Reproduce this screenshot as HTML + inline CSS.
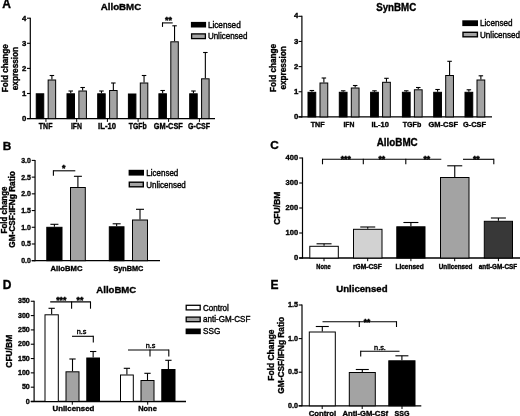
<!DOCTYPE html>
<html><head><meta charset="utf-8"><title>Figure</title>
<style>
html,body{margin:0;padding:0;background:#fff;}
body{width:520px;height:416px;overflow:hidden;font-family:"Liberation Sans",sans-serif;}
svg{display:block;}
svg text{font-family:"Liberation Sans",sans-serif;}
</style></head><body>
<svg width="520" height="416" viewBox="0 0 520 416">
<defs><filter id="soft" x="0" y="0" width="520" height="416" filterUnits="userSpaceOnUse"><feGaussianBlur stdDeviation="0.35"/></filter></defs>
<rect width="520" height="416" fill="#fff"/>
<g filter="url(#soft)">
<text x="2.2" y="8.0" font-size="12" font-weight="bold" stroke="#000" stroke-width="0.36" text-anchor="start" fill="#000">A</text>
<text x="121" y="10.3" font-size="9.8" font-weight="bold" stroke="#000" stroke-width="0.36" text-anchor="middle" textLength="40.5" lengthAdjust="spacingAndGlyphs" fill="#000">AlloBMC</text>
<line x1="30.3" y1="17.69999999999999" x2="30.3" y2="119.1" stroke="#000" stroke-width="1.2"/>
<line x1="27.0" y1="118.6" x2="215" y2="118.6" stroke="#000" stroke-width="1.3"/>
<line x1="27.0" y1="118.6" x2="30.3" y2="118.6" stroke="#000" stroke-width="1.1"/>
<text x="26.400000000000002" y="121.39999999999999" font-size="7.8" font-weight="bold" stroke="#000" stroke-width="0.36" text-anchor="end" fill="#000">0</text>
<line x1="27.0" y1="93.5" x2="30.3" y2="93.5" stroke="#000" stroke-width="1.1"/>
<text x="26.400000000000002" y="96.3" font-size="7.8" font-weight="bold" stroke="#000" stroke-width="0.36" text-anchor="end" fill="#000">1</text>
<line x1="27.0" y1="68.39999999999999" x2="30.3" y2="68.39999999999999" stroke="#000" stroke-width="1.1"/>
<text x="26.400000000000002" y="71.19999999999999" font-size="7.8" font-weight="bold" stroke="#000" stroke-width="0.36" text-anchor="end" fill="#000">2</text>
<line x1="27.0" y1="43.29999999999998" x2="30.3" y2="43.29999999999998" stroke="#000" stroke-width="1.1"/>
<text x="26.400000000000002" y="46.09999999999998" font-size="7.8" font-weight="bold" stroke="#000" stroke-width="0.36" text-anchor="end" fill="#000">3</text>
<line x1="27.0" y1="18.19999999999999" x2="30.3" y2="18.19999999999999" stroke="#000" stroke-width="1.1"/>
<text x="26.400000000000002" y="20.99999999999999" font-size="7.8" font-weight="bold" stroke="#000" stroke-width="0.36" text-anchor="end" fill="#000">4</text>
<text x="7.6" y="68.2" font-size="8.2" font-weight="bold" stroke="#000" stroke-width="0.36" text-anchor="middle" textLength="48.2" lengthAdjust="spacingAndGlyphs" transform="rotate(-90 7.6 68.2)" fill="#000">Fold change</text>
<text x="17.8" y="68.6" font-size="8.2" font-weight="bold" stroke="#000" stroke-width="0.36" text-anchor="middle" textLength="43.3" lengthAdjust="spacingAndGlyphs" transform="rotate(-90 17.8 68.6)" fill="#000">expression</text>
<rect x="36.25" y="93.80" width="7.50" height="24.80" fill="#000" stroke="#000" stroke-width="1.0"/>
<line x1="51.9" y1="75.5" x2="51.9" y2="79.5" stroke="#000" stroke-width="1.1"/>
<line x1="49.65" y1="75.5" x2="54.15" y2="75.5" stroke="#000" stroke-width="1.1"/>
<rect x="48.15" y="80.00" width="7.50" height="38.60" fill="#a3a3a3" stroke="#000" stroke-width="1.0"/>
<text x="45.650000000000006" y="129.3" font-size="8.3" font-weight="bold" stroke="#000" stroke-width="0.36" text-anchor="middle" textLength="13.6" lengthAdjust="spacingAndGlyphs" fill="#000">TNF</text>
<line x1="45.95" y1="118.6" x2="45.95" y2="121.89999999999999" stroke="#000" stroke-width="1.0"/>
<line x1="70.75" y1="91" x2="70.75" y2="93.3" stroke="#000" stroke-width="1.1"/>
<line x1="68.5" y1="91" x2="73.0" y2="91" stroke="#000" stroke-width="1.1"/>
<rect x="67.00" y="93.80" width="7.50" height="24.80" fill="#000" stroke="#000" stroke-width="1.0"/>
<line x1="82.65" y1="87.5" x2="82.65" y2="90.5" stroke="#000" stroke-width="1.1"/>
<line x1="80.4" y1="87.5" x2="84.9" y2="87.5" stroke="#000" stroke-width="1.1"/>
<rect x="78.90" y="91.00" width="7.50" height="27.60" fill="#a3a3a3" stroke="#000" stroke-width="1.0"/>
<text x="76.4" y="129.3" font-size="8.3" font-weight="bold" stroke="#000" stroke-width="0.36" text-anchor="middle" textLength="11" lengthAdjust="spacingAndGlyphs" fill="#000">IFN</text>
<line x1="76.7" y1="118.6" x2="76.7" y2="121.89999999999999" stroke="#000" stroke-width="1.0"/>
<line x1="101.45" y1="91" x2="101.45" y2="93.3" stroke="#000" stroke-width="1.1"/>
<line x1="99.2" y1="91" x2="103.7" y2="91" stroke="#000" stroke-width="1.1"/>
<rect x="97.70" y="93.80" width="7.50" height="24.80" fill="#000" stroke="#000" stroke-width="1.0"/>
<line x1="113.35000000000001" y1="83" x2="113.35000000000001" y2="90" stroke="#000" stroke-width="1.1"/>
<line x1="111.10000000000001" y1="83" x2="115.60000000000001" y2="83" stroke="#000" stroke-width="1.1"/>
<rect x="109.60" y="90.50" width="7.50" height="28.10" fill="#a3a3a3" stroke="#000" stroke-width="1.0"/>
<text x="107.10000000000001" y="129.3" font-size="8.3" font-weight="bold" stroke="#000" stroke-width="0.36" text-anchor="middle" textLength="18" lengthAdjust="spacingAndGlyphs" fill="#000">IL-10</text>
<line x1="107.4" y1="118.6" x2="107.4" y2="121.89999999999999" stroke="#000" stroke-width="1.0"/>
<rect x="128.40" y="94.00" width="7.50" height="24.60" fill="#000" stroke="#000" stroke-width="1.0"/>
<line x1="144.05" y1="75.5" x2="144.05" y2="82.5" stroke="#000" stroke-width="1.1"/>
<line x1="141.8" y1="75.5" x2="146.3" y2="75.5" stroke="#000" stroke-width="1.1"/>
<rect x="140.30" y="83.00" width="7.50" height="35.60" fill="#a3a3a3" stroke="#000" stroke-width="1.0"/>
<text x="137.79999999999998" y="129.3" font-size="8.3" font-weight="bold" stroke="#000" stroke-width="0.36" text-anchor="middle" textLength="18" lengthAdjust="spacingAndGlyphs" fill="#000">TGFb</text>
<line x1="138.1" y1="118.6" x2="138.1" y2="121.89999999999999" stroke="#000" stroke-width="1.0"/>
<line x1="162.65" y1="90.5" x2="162.65" y2="93.3" stroke="#000" stroke-width="1.1"/>
<line x1="160.4" y1="90.5" x2="164.9" y2="90.5" stroke="#000" stroke-width="1.1"/>
<rect x="158.90" y="93.80" width="7.50" height="24.80" fill="#000" stroke="#000" stroke-width="1.0"/>
<line x1="174.55" y1="25.8" x2="174.55" y2="41.3" stroke="#000" stroke-width="1.1"/>
<line x1="172.3" y1="25.8" x2="176.8" y2="25.8" stroke="#000" stroke-width="1.1"/>
<rect x="170.80" y="41.80" width="7.50" height="76.80" fill="#a3a3a3" stroke="#000" stroke-width="1.0"/>
<text x="168.29999999999998" y="129.3" font-size="8.3" font-weight="bold" stroke="#000" stroke-width="0.36" text-anchor="middle" textLength="29" lengthAdjust="spacingAndGlyphs" fill="#000">GM-CSF</text>
<line x1="168.6" y1="118.6" x2="168.6" y2="121.89999999999999" stroke="#000" stroke-width="1.0"/>
<line x1="193.45" y1="91" x2="193.45" y2="93.3" stroke="#000" stroke-width="1.1"/>
<line x1="191.2" y1="91" x2="195.7" y2="91" stroke="#000" stroke-width="1.1"/>
<rect x="189.70" y="93.80" width="7.50" height="24.80" fill="#000" stroke="#000" stroke-width="1.0"/>
<line x1="205.35" y1="52.5" x2="205.35" y2="78.3" stroke="#000" stroke-width="1.1"/>
<line x1="203.1" y1="52.5" x2="207.6" y2="52.5" stroke="#000" stroke-width="1.1"/>
<rect x="201.60" y="78.80" width="7.50" height="39.80" fill="#a3a3a3" stroke="#000" stroke-width="1.0"/>
<text x="199.09999999999997" y="129.3" font-size="8.3" font-weight="bold" stroke="#000" stroke-width="0.36" text-anchor="middle" textLength="22" lengthAdjust="spacingAndGlyphs" fill="#000">G-CSF</text>
<line x1="199.39999999999998" y1="118.6" x2="199.39999999999998" y2="121.89999999999999" stroke="#000" stroke-width="1.0"/>
<rect x="190.9" y="21.9" width="15.2" height="5.6" fill="#000"/>
<rect x="191.6" y="33.9" width="13.8" height="4.7" fill="#a3a3a3" stroke="#000" stroke-width="1.3"/>
<text x="207.9" y="27.6" font-size="8.5" stroke="#000" stroke-width="0.38" text-anchor="start" textLength="32.8" lengthAdjust="spacingAndGlyphs" fill="#000">Licensed</text>
<text x="207.9" y="39.2" font-size="8.5" stroke="#000" stroke-width="0.38" text-anchor="start" textLength="39.6" lengthAdjust="spacingAndGlyphs" fill="#000">Unlicensed</text>
<line x1="162.3" y1="22.9" x2="172.7" y2="22.9" stroke="#000" stroke-width="1.1"/>
<line x1="162.5" y1="22.4" x2="162.5" y2="26.9" stroke="#000" stroke-width="1.1"/>
<text x="168.4" y="23.3" font-size="9" font-weight="bold" stroke="#000" stroke-width="0.45" text-anchor="middle" fill="#000">**</text>
<text x="396.2" y="10.5" font-size="10.1" font-weight="bold" stroke="#000" stroke-width="0.36" text-anchor="middle" textLength="40" lengthAdjust="spacingAndGlyphs" fill="#000">SynBMC</text>
<line x1="301.9" y1="15.800000000000011" x2="301.9" y2="117.4" stroke="#000" stroke-width="1.2"/>
<line x1="298.59999999999997" y1="116.9" x2="492" y2="116.9" stroke="#000" stroke-width="1.3"/>
<line x1="298.59999999999997" y1="116.9" x2="301.9" y2="116.9" stroke="#000" stroke-width="1.1"/>
<text x="298.4" y="119.0" font-size="7.8" font-weight="bold" stroke="#000" stroke-width="0.36" text-anchor="end" fill="#000">0</text>
<line x1="298.59999999999997" y1="91.75" x2="301.9" y2="91.75" stroke="#000" stroke-width="1.1"/>
<text x="298.4" y="93.85" font-size="7.8" font-weight="bold" stroke="#000" stroke-width="0.36" text-anchor="end" fill="#000">1</text>
<line x1="298.59999999999997" y1="66.60000000000001" x2="301.9" y2="66.60000000000001" stroke="#000" stroke-width="1.1"/>
<text x="298.4" y="68.7" font-size="7.8" font-weight="bold" stroke="#000" stroke-width="0.36" text-anchor="end" fill="#000">2</text>
<line x1="298.59999999999997" y1="41.45000000000002" x2="301.9" y2="41.45000000000002" stroke="#000" stroke-width="1.1"/>
<text x="298.4" y="43.55000000000002" font-size="7.8" font-weight="bold" stroke="#000" stroke-width="0.36" text-anchor="end" fill="#000">3</text>
<line x1="298.59999999999997" y1="16.30000000000001" x2="301.9" y2="16.30000000000001" stroke="#000" stroke-width="1.1"/>
<text x="298.4" y="18.400000000000013" font-size="7.8" font-weight="bold" stroke="#000" stroke-width="0.36" text-anchor="end" fill="#000">4</text>
<text x="276.2" y="68" font-size="8.2" font-weight="bold" stroke="#000" stroke-width="0.36" text-anchor="middle" textLength="48" lengthAdjust="spacingAndGlyphs" transform="rotate(-90 276.2 68)" fill="#000">Fold change</text>
<text x="285.8" y="67.9" font-size="8.2" font-weight="bold" stroke="#000" stroke-width="0.36" text-anchor="middle" textLength="43.3" lengthAdjust="spacingAndGlyphs" transform="rotate(-90 285.8 67.9)" fill="#000">expression</text>
<line x1="311.875" y1="90.5" x2="311.875" y2="91.8" stroke="#000" stroke-width="1.1"/>
<line x1="309.625" y1="90.5" x2="314.125" y2="90.5" stroke="#000" stroke-width="1.1"/>
<rect x="308.00" y="92.30" width="7.75" height="24.60" fill="#000" stroke="#000" stroke-width="1.0"/>
<line x1="323.875" y1="78" x2="323.875" y2="82.5" stroke="#000" stroke-width="1.1"/>
<line x1="321.625" y1="78" x2="326.125" y2="78" stroke="#000" stroke-width="1.1"/>
<rect x="320.00" y="83.00" width="7.75" height="33.90" fill="#a3a3a3" stroke="#000" stroke-width="1.0"/>
<text x="317.575" y="126.9" font-size="7.8" font-weight="bold" stroke="#000" stroke-width="0.36" text-anchor="middle" textLength="13.9" lengthAdjust="spacingAndGlyphs" fill="#000">TNF</text>
<line x1="343.175" y1="90.8" x2="343.175" y2="91.8" stroke="#000" stroke-width="1.1"/>
<line x1="340.925" y1="90.8" x2="345.425" y2="90.8" stroke="#000" stroke-width="1.1"/>
<rect x="339.30" y="92.30" width="7.75" height="24.60" fill="#000" stroke="#000" stroke-width="1.0"/>
<line x1="355.175" y1="85.5" x2="355.175" y2="87.5" stroke="#000" stroke-width="1.1"/>
<line x1="352.925" y1="85.5" x2="357.425" y2="85.5" stroke="#000" stroke-width="1.1"/>
<rect x="351.30" y="88.00" width="7.75" height="28.90" fill="#a3a3a3" stroke="#000" stroke-width="1.0"/>
<text x="348.875" y="126.9" font-size="7.8" font-weight="bold" stroke="#000" stroke-width="0.36" text-anchor="middle" textLength="11" lengthAdjust="spacingAndGlyphs" fill="#000">IFN</text>
<line x1="374.475" y1="90.8" x2="374.475" y2="91.8" stroke="#000" stroke-width="1.1"/>
<line x1="372.225" y1="90.8" x2="376.725" y2="90.8" stroke="#000" stroke-width="1.1"/>
<rect x="370.60" y="92.30" width="7.75" height="24.60" fill="#000" stroke="#000" stroke-width="1.0"/>
<line x1="386.475" y1="78.3" x2="386.475" y2="81.8" stroke="#000" stroke-width="1.1"/>
<line x1="384.225" y1="78.3" x2="388.725" y2="78.3" stroke="#000" stroke-width="1.1"/>
<rect x="382.60" y="82.30" width="7.75" height="34.60" fill="#a3a3a3" stroke="#000" stroke-width="1.0"/>
<text x="380.175" y="126.9" font-size="7.8" font-weight="bold" stroke="#000" stroke-width="0.36" text-anchor="middle" textLength="17.5" lengthAdjust="spacingAndGlyphs" fill="#000">IL-10</text>
<line x1="406.275" y1="90.8" x2="406.275" y2="91.8" stroke="#000" stroke-width="1.1"/>
<line x1="404.025" y1="90.8" x2="408.525" y2="90.8" stroke="#000" stroke-width="1.1"/>
<rect x="402.40" y="92.30" width="7.75" height="24.60" fill="#000" stroke="#000" stroke-width="1.0"/>
<line x1="418.275" y1="87.5" x2="418.275" y2="89.3" stroke="#000" stroke-width="1.1"/>
<line x1="416.025" y1="87.5" x2="420.525" y2="87.5" stroke="#000" stroke-width="1.1"/>
<rect x="414.40" y="89.80" width="7.75" height="27.10" fill="#a3a3a3" stroke="#000" stroke-width="1.0"/>
<text x="411.97499999999997" y="126.9" font-size="7.8" font-weight="bold" stroke="#000" stroke-width="0.36" text-anchor="middle" textLength="18.5" lengthAdjust="spacingAndGlyphs" fill="#000">TGFb</text>
<line x1="437.575" y1="89.5" x2="437.575" y2="91.8" stroke="#000" stroke-width="1.1"/>
<line x1="435.325" y1="89.5" x2="439.825" y2="89.5" stroke="#000" stroke-width="1.1"/>
<rect x="433.70" y="92.30" width="7.75" height="24.60" fill="#000" stroke="#000" stroke-width="1.0"/>
<line x1="449.575" y1="61.3" x2="449.575" y2="75" stroke="#000" stroke-width="1.1"/>
<line x1="447.325" y1="61.3" x2="451.825" y2="61.3" stroke="#000" stroke-width="1.1"/>
<rect x="445.70" y="75.50" width="7.75" height="41.40" fill="#a3a3a3" stroke="#000" stroke-width="1.0"/>
<text x="443.275" y="126.9" font-size="7.8" font-weight="bold" stroke="#000" stroke-width="0.36" text-anchor="middle" textLength="29.5" lengthAdjust="spacingAndGlyphs" fill="#000">GM-CSF</text>
<line x1="468.875" y1="89.8" x2="468.875" y2="91.8" stroke="#000" stroke-width="1.1"/>
<line x1="466.625" y1="89.8" x2="471.125" y2="89.8" stroke="#000" stroke-width="1.1"/>
<rect x="465.00" y="92.30" width="7.75" height="24.60" fill="#000" stroke="#000" stroke-width="1.0"/>
<line x1="480.875" y1="75.8" x2="480.875" y2="79.5" stroke="#000" stroke-width="1.1"/>
<line x1="478.625" y1="75.8" x2="483.125" y2="75.8" stroke="#000" stroke-width="1.1"/>
<rect x="477.00" y="80.00" width="7.75" height="36.90" fill="#a3a3a3" stroke="#000" stroke-width="1.0"/>
<text x="474.575" y="126.9" font-size="7.8" font-weight="bold" stroke="#000" stroke-width="0.36" text-anchor="middle" textLength="23" lengthAdjust="spacingAndGlyphs" fill="#000">G-CSF</text>
<rect x="462.3" y="20.3" width="15.7" height="5.8" fill="#000"/>
<rect x="463" y="32.3" width="14.4" height="4.5" fill="#a3a3a3" stroke="#000" stroke-width="1.4"/>
<text x="480" y="26.2" font-size="8.5" stroke="#000" stroke-width="0.38" text-anchor="start" textLength="32.5" lengthAdjust="spacingAndGlyphs" fill="#000">Licensed</text>
<text x="480" y="37.5" font-size="8.5" stroke="#000" stroke-width="0.38" text-anchor="start" textLength="40" lengthAdjust="spacingAndGlyphs" fill="#000">Unlicensed</text>
<text x="2.7" y="149.7" font-size="11.8" font-weight="bold" stroke="#000" stroke-width="0.36" text-anchor="start" fill="#000">B</text>
<line x1="35.05" y1="159.91" x2="35.05" y2="261.2" stroke="#000" stroke-width="1.2"/>
<line x1="31.749999999999996" y1="260.7" x2="160" y2="260.7" stroke="#000" stroke-width="1.3"/>
<line x1="31.749999999999996" y1="260.7" x2="35.05" y2="260.7" stroke="#000" stroke-width="1.1"/>
<text x="30.849999999999998" y="263.09999999999997" font-size="7.7" font-weight="bold" stroke="#000" stroke-width="0.36" text-anchor="end" textLength="9.7" lengthAdjust="spacingAndGlyphs" fill="#000">0.0</text>
<line x1="31.749999999999996" y1="243.98499999999999" x2="35.05" y2="243.98499999999999" stroke="#000" stroke-width="1.1"/>
<text x="30.849999999999998" y="246.385" font-size="7.7" font-weight="bold" stroke="#000" stroke-width="0.36" text-anchor="end" textLength="9.7" lengthAdjust="spacingAndGlyphs" fill="#000">0.5</text>
<line x1="31.749999999999996" y1="227.26999999999998" x2="35.05" y2="227.26999999999998" stroke="#000" stroke-width="1.1"/>
<text x="30.849999999999998" y="229.67" font-size="7.7" font-weight="bold" stroke="#000" stroke-width="0.36" text-anchor="end" textLength="9.7" lengthAdjust="spacingAndGlyphs" fill="#000">1.0</text>
<line x1="31.749999999999996" y1="210.555" x2="35.05" y2="210.555" stroke="#000" stroke-width="1.1"/>
<text x="30.849999999999998" y="212.955" font-size="7.7" font-weight="bold" stroke="#000" stroke-width="0.36" text-anchor="end" textLength="9.7" lengthAdjust="spacingAndGlyphs" fill="#000">1.5</text>
<line x1="31.749999999999996" y1="193.83999999999997" x2="35.05" y2="193.83999999999997" stroke="#000" stroke-width="1.1"/>
<text x="30.849999999999998" y="196.23999999999998" font-size="7.7" font-weight="bold" stroke="#000" stroke-width="0.36" text-anchor="end" textLength="9.7" lengthAdjust="spacingAndGlyphs" fill="#000">2.0</text>
<line x1="31.749999999999996" y1="177.125" x2="35.05" y2="177.125" stroke="#000" stroke-width="1.1"/>
<text x="30.849999999999998" y="179.525" font-size="7.7" font-weight="bold" stroke="#000" stroke-width="0.36" text-anchor="end" textLength="9.7" lengthAdjust="spacingAndGlyphs" fill="#000">2.5</text>
<line x1="31.749999999999996" y1="160.41" x2="35.05" y2="160.41" stroke="#000" stroke-width="1.1"/>
<text x="30.849999999999998" y="162.81" font-size="7.7" font-weight="bold" stroke="#000" stroke-width="0.36" text-anchor="end" textLength="9.7" lengthAdjust="spacingAndGlyphs" fill="#000">3.0</text>
<text x="6.6" y="210" font-size="8.2" font-weight="bold" stroke="#000" stroke-width="0.36" text-anchor="middle" textLength="47" lengthAdjust="spacingAndGlyphs" transform="rotate(-90 6.6 210)" fill="#000">Fold change</text>
<text x="15.2" y="209.5" font-size="8.2" font-weight="bold" stroke="#000" stroke-width="0.36" text-anchor="middle" textLength="76.6" lengthAdjust="spacingAndGlyphs" transform="rotate(-90 15.2 209.5)" fill="#000">GM-CSF:IFNg Ratio</text>
<line x1="54.4" y1="224.3" x2="54.4" y2="226.8" stroke="#000" stroke-width="1.1"/>
<line x1="50.4" y1="224.3" x2="58.4" y2="224.3" stroke="#000" stroke-width="1.1"/>
<rect x="46.80" y="227.30" width="15.20" height="33.40" fill="#000" stroke="#000" stroke-width="1.0"/>
<line x1="77.9" y1="176.3" x2="77.9" y2="187" stroke="#000" stroke-width="1.1"/>
<line x1="73.9" y1="176.3" x2="81.9" y2="176.3" stroke="#000" stroke-width="1.1"/>
<rect x="70.50" y="187.50" width="14.80" height="73.20" fill="#a3a3a3" stroke="#000" stroke-width="1.0"/>
<line x1="116.65" y1="223.8" x2="116.65" y2="226.3" stroke="#000" stroke-width="1.1"/>
<line x1="112.65" y1="223.8" x2="120.65" y2="223.8" stroke="#000" stroke-width="1.1"/>
<rect x="109.30" y="226.80" width="14.70" height="33.90" fill="#000" stroke="#000" stroke-width="1.0"/>
<line x1="140.0" y1="209.3" x2="140.0" y2="219.5" stroke="#000" stroke-width="1.1"/>
<line x1="136.0" y1="209.3" x2="144.0" y2="209.3" stroke="#000" stroke-width="1.1"/>
<rect x="132.50" y="220.00" width="15.00" height="40.70" fill="#a3a3a3" stroke="#000" stroke-width="1.0"/>
<text x="66.5" y="270.8" font-size="7.5" font-weight="bold" stroke="#000" stroke-width="0.36" text-anchor="middle" textLength="31.8" lengthAdjust="spacingAndGlyphs" fill="#000">AlloBMC</text>
<text x="128.4" y="270.8" font-size="7.5" font-weight="bold" stroke="#000" stroke-width="0.36" text-anchor="middle" textLength="30" lengthAdjust="spacingAndGlyphs" fill="#000">SynBMC</text>
<line x1="53.3" y1="170.8" x2="75.3" y2="170.8" stroke="#000" stroke-width="1.1"/>
<line x1="53.4" y1="170.3" x2="53.4" y2="175.8" stroke="#000" stroke-width="1.1"/>
<text x="63.6" y="170.9" font-size="8.8" font-weight="bold" stroke="#000" stroke-width="0.5" text-anchor="middle" fill="#000">*</text>
<rect x="128.6" y="169.8" width="15.4" height="5.8" fill="#000"/>
<rect x="129.3" y="182.2" width="14" height="4.6" fill="#a3a3a3" stroke="#000" stroke-width="1.4"/>
<text x="146.3" y="175.7" font-size="8.5" stroke="#000" stroke-width="0.38" text-anchor="start" textLength="32" lengthAdjust="spacingAndGlyphs" fill="#000">Licensed</text>
<text x="146.3" y="187.7" font-size="8.5" stroke="#000" stroke-width="0.38" text-anchor="start" textLength="39.5" lengthAdjust="spacingAndGlyphs" fill="#000">Unlicensed</text>
<text x="270.3" y="149.4" font-size="11.8" font-weight="bold" stroke="#000" stroke-width="0.36" text-anchor="start" fill="#000">C</text>
<text x="397.2" y="146.3" font-size="10.1" font-weight="bold" stroke="#000" stroke-width="0.36" text-anchor="middle" textLength="41" lengthAdjust="spacingAndGlyphs" fill="#000">AlloBMC</text>
<line x1="302.5" y1="157.5" x2="302.5" y2="258.5" stroke="#000" stroke-width="1.2"/>
<line x1="299.2" y1="258" x2="520" y2="258" stroke="#000" stroke-width="1.3"/>
<line x1="299.2" y1="258.0" x2="302.5" y2="258.0" stroke="#000" stroke-width="1.1"/>
<text x="298.2" y="260.2" font-size="7.7" font-weight="bold" stroke="#000" stroke-width="0.36" text-anchor="end" fill="#000">0</text>
<line x1="299.2" y1="233.0" x2="302.5" y2="233.0" stroke="#000" stroke-width="1.1"/>
<text x="298.2" y="235.2" font-size="7.7" font-weight="bold" stroke="#000" stroke-width="0.36" text-anchor="end" textLength="12.6" lengthAdjust="spacingAndGlyphs" fill="#000">100</text>
<line x1="299.2" y1="208.0" x2="302.5" y2="208.0" stroke="#000" stroke-width="1.1"/>
<text x="298.2" y="210.2" font-size="7.7" font-weight="bold" stroke="#000" stroke-width="0.36" text-anchor="end" textLength="12.6" lengthAdjust="spacingAndGlyphs" fill="#000">200</text>
<line x1="299.2" y1="183.0" x2="302.5" y2="183.0" stroke="#000" stroke-width="1.1"/>
<text x="298.2" y="185.2" font-size="7.7" font-weight="bold" stroke="#000" stroke-width="0.36" text-anchor="end" textLength="12.6" lengthAdjust="spacingAndGlyphs" fill="#000">300</text>
<line x1="299.2" y1="158.0" x2="302.5" y2="158.0" stroke="#000" stroke-width="1.1"/>
<text x="298.2" y="160.2" font-size="7.7" font-weight="bold" stroke="#000" stroke-width="0.36" text-anchor="end" textLength="12.6" lengthAdjust="spacingAndGlyphs" fill="#000">400</text>
<text x="279.7" y="208.2" font-size="8.4" font-weight="bold" stroke="#000" stroke-width="0.36" text-anchor="middle" textLength="33.2" lengthAdjust="spacingAndGlyphs" transform="rotate(-90 279.7 208.2)" fill="#000">CFU/BM</text>
<line x1="324.05" y1="243.8" x2="324.05" y2="245.8" stroke="#000" stroke-width="1.1"/>
<line x1="316.55" y1="243.8" x2="331.55" y2="243.8" stroke="#000" stroke-width="1.1"/>
<rect x="309.80" y="246.30" width="28.50" height="11.70" fill="#fff" stroke="#000" stroke-width="1.0"/>
<line x1="367.75" y1="227" x2="367.75" y2="228.8" stroke="#000" stroke-width="1.1"/>
<line x1="360.25" y1="227" x2="375.25" y2="227" stroke="#000" stroke-width="1.1"/>
<rect x="353.50" y="229.30" width="28.50" height="28.70" fill="#d2d2d2" stroke="#000" stroke-width="1.0"/>
<line x1="410.9" y1="222.5" x2="410.9" y2="226.3" stroke="#000" stroke-width="1.1"/>
<line x1="403.4" y1="222.5" x2="418.4" y2="222.5" stroke="#000" stroke-width="1.1"/>
<rect x="396.80" y="226.80" width="28.20" height="31.20" fill="#000" stroke="#000" stroke-width="1.0"/>
<line x1="454.75" y1="165.8" x2="454.75" y2="177" stroke="#000" stroke-width="1.1"/>
<line x1="447.25" y1="165.8" x2="462.25" y2="165.8" stroke="#000" stroke-width="1.1"/>
<rect x="440.50" y="177.50" width="28.50" height="80.50" fill="#a3a3a3" stroke="#000" stroke-width="1.0"/>
<line x1="498.4" y1="218" x2="498.4" y2="220.8" stroke="#000" stroke-width="1.1"/>
<line x1="490.9" y1="218" x2="505.9" y2="218" stroke="#000" stroke-width="1.1"/>
<rect x="484.30" y="221.30" width="28.20" height="36.70" fill="#383838" stroke="#000" stroke-width="1.0"/>
<line x1="324" y1="258" x2="324" y2="261.2" stroke="#000" stroke-width="1.0"/>
<line x1="367.7" y1="258" x2="367.7" y2="261.2" stroke="#000" stroke-width="1.0"/>
<line x1="410.9" y1="258" x2="410.9" y2="261.2" stroke="#000" stroke-width="1.0"/>
<line x1="454.7" y1="258" x2="454.7" y2="261.2" stroke="#000" stroke-width="1.0"/>
<line x1="498.4" y1="258" x2="498.4" y2="261.2" stroke="#000" stroke-width="1.0"/>
<text x="323.5" y="268.9" font-size="6.3" font-weight="bold" stroke="#000" stroke-width="0.36" text-anchor="middle" textLength="14.3" lengthAdjust="spacingAndGlyphs" fill="#000">None</text>
<text x="367.4" y="268.9" font-size="6.3" font-weight="bold" stroke="#000" stroke-width="0.36" text-anchor="middle" textLength="28.8" lengthAdjust="spacingAndGlyphs" fill="#000">rGM-CSF</text>
<text x="409.6" y="268.9" font-size="6.3" font-weight="bold" stroke="#000" stroke-width="0.36" text-anchor="middle" textLength="28.3" lengthAdjust="spacingAndGlyphs" fill="#000">Licensed</text>
<text x="455.6" y="268.9" font-size="6.3" font-weight="bold" stroke="#000" stroke-width="0.36" text-anchor="middle" textLength="33.8" lengthAdjust="spacingAndGlyphs" fill="#000">Unlicensed</text>
<text x="497.9" y="268.9" font-size="6.3" font-weight="bold" stroke="#000" stroke-width="0.36" text-anchor="middle" textLength="38.3" lengthAdjust="spacingAndGlyphs" fill="#000">anti-GM-CSF</text>
<line x1="322.5" y1="159.3" x2="441.3" y2="159.3" stroke="#000" stroke-width="1.1"/>
<line x1="322.5" y1="158.8" x2="322.5" y2="164.3" stroke="#000" stroke-width="1.1"/>
<line x1="363.3" y1="158.8" x2="363.3" y2="164.3" stroke="#000" stroke-width="1.1"/>
<line x1="405.8" y1="158.8" x2="405.8" y2="164.3" stroke="#000" stroke-width="1.1"/>
<line x1="463" y1="159.3" x2="493.8" y2="159.3" stroke="#000" stroke-width="1.1"/>
<line x1="493.8" y1="158.8" x2="493.8" y2="164.3" stroke="#000" stroke-width="1.1"/>
<text x="345.8" y="162.1" font-size="8.7" font-weight="bold" stroke="#000" stroke-width="0.5" text-anchor="middle" fill="#000">***</text>
<text x="381.8" y="162.1" font-size="8.7" font-weight="bold" stroke="#000" stroke-width="0.5" text-anchor="middle" fill="#000">**</text>
<text x="426.8" y="162.1" font-size="8.7" font-weight="bold" stroke="#000" stroke-width="0.5" text-anchor="middle" fill="#000">**</text>
<text x="476.3" y="162.1" font-size="8.7" font-weight="bold" stroke="#000" stroke-width="0.5" text-anchor="middle" fill="#000">**</text>
<text x="2.7" y="288.9" font-size="12" font-weight="bold" stroke="#000" stroke-width="0.36" text-anchor="start" fill="#000">D</text>
<text x="116.3" y="293.2" font-size="9.9" font-weight="bold" stroke="#000" stroke-width="0.36" text-anchor="middle" textLength="40" lengthAdjust="spacingAndGlyphs" fill="#000">AlloBMC</text>
<line x1="34.1" y1="300.76" x2="34.1" y2="402.0" stroke="#000" stroke-width="1.2"/>
<line x1="30.8" y1="401.5" x2="186" y2="401.5" stroke="#000" stroke-width="1.3"/>
<line x1="30.8" y1="401.5" x2="34.1" y2="401.5" stroke="#000" stroke-width="1.1"/>
<text x="29.8" y="403.5" font-size="7.6" font-weight="bold" stroke="#000" stroke-width="0.36" text-anchor="end" textLength="4" lengthAdjust="spacingAndGlyphs" fill="#000">0</text>
<line x1="30.8" y1="387.18" x2="34.1" y2="387.18" stroke="#000" stroke-width="1.1"/>
<text x="29.8" y="389.18" font-size="7.6" font-weight="bold" stroke="#000" stroke-width="0.36" text-anchor="end" textLength="7.9" lengthAdjust="spacingAndGlyphs" fill="#000">50</text>
<line x1="30.8" y1="372.86" x2="34.1" y2="372.86" stroke="#000" stroke-width="1.1"/>
<text x="29.8" y="374.86" font-size="7.6" font-weight="bold" stroke="#000" stroke-width="0.36" text-anchor="end" textLength="11.8" lengthAdjust="spacingAndGlyphs" fill="#000">100</text>
<line x1="30.8" y1="358.54" x2="34.1" y2="358.54" stroke="#000" stroke-width="1.1"/>
<text x="29.8" y="360.54" font-size="7.6" font-weight="bold" stroke="#000" stroke-width="0.36" text-anchor="end" textLength="11.8" lengthAdjust="spacingAndGlyphs" fill="#000">150</text>
<line x1="30.8" y1="344.22" x2="34.1" y2="344.22" stroke="#000" stroke-width="1.1"/>
<text x="29.8" y="346.22" font-size="7.6" font-weight="bold" stroke="#000" stroke-width="0.36" text-anchor="end" textLength="11.8" lengthAdjust="spacingAndGlyphs" fill="#000">200</text>
<line x1="30.8" y1="329.9" x2="34.1" y2="329.9" stroke="#000" stroke-width="1.1"/>
<text x="29.8" y="331.9" font-size="7.6" font-weight="bold" stroke="#000" stroke-width="0.36" text-anchor="end" textLength="11.8" lengthAdjust="spacingAndGlyphs" fill="#000">250</text>
<line x1="30.8" y1="315.58" x2="34.1" y2="315.58" stroke="#000" stroke-width="1.1"/>
<text x="29.8" y="317.58" font-size="7.6" font-weight="bold" stroke="#000" stroke-width="0.36" text-anchor="end" textLength="11.8" lengthAdjust="spacingAndGlyphs" fill="#000">300</text>
<line x1="30.8" y1="301.26" x2="34.1" y2="301.26" stroke="#000" stroke-width="1.1"/>
<text x="29.8" y="303.26" font-size="7.6" font-weight="bold" stroke="#000" stroke-width="0.36" text-anchor="end" textLength="11.8" lengthAdjust="spacingAndGlyphs" fill="#000">350</text>
<text x="12.2" y="351.2" font-size="8.8" font-weight="bold" stroke="#000" stroke-width="0.36" text-anchor="middle" textLength="33" lengthAdjust="spacingAndGlyphs" transform="rotate(-90 12.2 351.2)" fill="#000">CFU/BM</text>
<line x1="51.65" y1="308.3" x2="51.65" y2="314.3" stroke="#000" stroke-width="1.1"/>
<line x1="48.5" y1="308.3" x2="54.8" y2="308.3" stroke="#000" stroke-width="1.1"/>
<rect x="45.00" y="314.80" width="13.30" height="86.70" fill="#fff" stroke="#000" stroke-width="1.0"/>
<line x1="72.5" y1="359" x2="72.5" y2="371.3" stroke="#000" stroke-width="1.1"/>
<line x1="69.35" y1="359" x2="75.65" y2="359" stroke="#000" stroke-width="1.1"/>
<rect x="66.00" y="371.80" width="13.00" height="29.70" fill="#a3a3a3" stroke="#000" stroke-width="1.0"/>
<line x1="93.15" y1="351.5" x2="93.15" y2="357.5" stroke="#000" stroke-width="1.1"/>
<line x1="90.0" y1="351.5" x2="96.30000000000001" y2="351.5" stroke="#000" stroke-width="1.1"/>
<rect x="86.80" y="358.00" width="12.70" height="43.50" fill="#000" stroke="#000" stroke-width="1.0"/>
<line x1="126.9" y1="368.3" x2="126.9" y2="374.5" stroke="#000" stroke-width="1.1"/>
<line x1="123.75" y1="368.3" x2="130.05" y2="368.3" stroke="#000" stroke-width="1.1"/>
<rect x="120.50" y="375.00" width="12.80" height="26.50" fill="#fff" stroke="#000" stroke-width="1.0"/>
<line x1="147.5" y1="373.3" x2="147.5" y2="380" stroke="#000" stroke-width="1.1"/>
<line x1="144.35" y1="373.3" x2="150.65" y2="373.3" stroke="#000" stroke-width="1.1"/>
<rect x="141.00" y="380.50" width="13.00" height="21.00" fill="#a3a3a3" stroke="#000" stroke-width="1.0"/>
<line x1="168.4" y1="360.3" x2="168.4" y2="369" stroke="#000" stroke-width="1.1"/>
<line x1="165.25" y1="360.3" x2="171.55" y2="360.3" stroke="#000" stroke-width="1.1"/>
<rect x="161.80" y="369.50" width="13.20" height="32.00" fill="#000" stroke="#000" stroke-width="1.0"/>
<line x1="72.3" y1="401.5" x2="72.3" y2="404.7" stroke="#000" stroke-width="1.0"/>
<line x1="147.7" y1="401.5" x2="147.7" y2="404.7" stroke="#000" stroke-width="1.0"/>
<text x="73.4" y="411.4" font-size="7.9" font-weight="bold" stroke="#000" stroke-width="0.36" text-anchor="middle" textLength="41.8" lengthAdjust="spacingAndGlyphs" fill="#000">Unlicensed</text>
<text x="147.5" y="411.4" font-size="7.9" font-weight="bold" stroke="#000" stroke-width="0.36" text-anchor="middle" textLength="18.5" lengthAdjust="spacingAndGlyphs" fill="#000">None</text>
<line x1="50.2" y1="301.9" x2="90.5" y2="301.9" stroke="#000" stroke-width="1.1"/>
<line x1="71.6" y1="301.4" x2="71.6" y2="308.7" stroke="#000" stroke-width="1.1"/>
<line x1="90.5" y1="301.4" x2="90.5" y2="308.7" stroke="#000" stroke-width="1.1"/>
<text x="61.3" y="303.0" font-size="8.7" font-weight="bold" stroke="#000" stroke-width="0.5" text-anchor="middle" fill="#000">***</text>
<text x="80" y="303.0" font-size="8.7" font-weight="bold" stroke="#000" stroke-width="0.5" text-anchor="middle" fill="#000">**</text>
<line x1="72" y1="336.3" x2="93.3" y2="336.3" stroke="#000" stroke-width="1.1"/>
<line x1="93.3" y1="335.8" x2="93.3" y2="342.5" stroke="#000" stroke-width="1.1"/>
<text x="81.6" y="334.4" font-size="7.3" stroke="#000" stroke-width="0.38" text-anchor="middle" fill="#000">n.s</text>
<line x1="128" y1="350" x2="168.8" y2="350" stroke="#000" stroke-width="1.1"/>
<line x1="150" y1="349.5" x2="150" y2="356.5" stroke="#000" stroke-width="1.1"/>
<line x1="168.8" y1="349.5" x2="168.8" y2="356.5" stroke="#000" stroke-width="1.1"/>
<text x="150.5" y="347.7" font-size="7.3" stroke="#000" stroke-width="0.38" text-anchor="middle" fill="#000">n.s</text>
<rect x="186.2" y="305.3" width="14" height="4.6" fill="#fff" stroke="#000" stroke-width="1.3"/>
<rect x="186.2" y="317.1" width="14" height="4.6" fill="#a3a3a3" stroke="#000" stroke-width="1.3"/>
<rect x="185.6" y="328.5" width="15.2" height="5.7" fill="#000"/>
<text x="203" y="310.5" font-size="8.5" stroke="#000" stroke-width="0.38" text-anchor="start" textLength="25.8" lengthAdjust="spacingAndGlyphs" fill="#000">Control</text>
<text x="203" y="322.3" font-size="8.5" stroke="#000" stroke-width="0.38" text-anchor="start" textLength="47.4" lengthAdjust="spacingAndGlyphs" fill="#000">anti-GM-CSF</text>
<text x="203" y="334.3" font-size="8.5" stroke="#000" stroke-width="0.38" text-anchor="start" textLength="17.3" lengthAdjust="spacingAndGlyphs" fill="#000">SSG</text>
<text x="270.6" y="288.9" font-size="12" font-weight="bold" stroke="#000" stroke-width="0.36" text-anchor="start" fill="#000">E</text>
<text x="361.9" y="292.4" font-size="9.7" font-weight="bold" stroke="#000" stroke-width="0.36" text-anchor="middle" textLength="51.3" lengthAdjust="spacingAndGlyphs" fill="#000">Unlicensed</text>
<line x1="302" y1="304.5" x2="302" y2="406.3" stroke="#000" stroke-width="1.2"/>
<line x1="298.7" y1="405.8" x2="421.3" y2="405.8" stroke="#000" stroke-width="1.3"/>
<line x1="298.7" y1="405.8" x2="302" y2="405.8" stroke="#000" stroke-width="1.1"/>
<text x="298.0" y="407.90000000000003" font-size="7.6" font-weight="bold" stroke="#000" stroke-width="0.36" text-anchor="end" textLength="10" lengthAdjust="spacingAndGlyphs" fill="#000">0.0</text>
<line x1="298.7" y1="372.2" x2="302" y2="372.2" stroke="#000" stroke-width="1.1"/>
<text x="298.0" y="374.3" font-size="7.6" font-weight="bold" stroke="#000" stroke-width="0.36" text-anchor="end" textLength="10" lengthAdjust="spacingAndGlyphs" fill="#000">0.5</text>
<line x1="298.7" y1="338.6" x2="302" y2="338.6" stroke="#000" stroke-width="1.1"/>
<text x="298.0" y="340.70000000000005" font-size="7.6" font-weight="bold" stroke="#000" stroke-width="0.36" text-anchor="end" textLength="10" lengthAdjust="spacingAndGlyphs" fill="#000">1.0</text>
<line x1="298.7" y1="305.0" x2="302" y2="305.0" stroke="#000" stroke-width="1.1"/>
<text x="298.0" y="307.1" font-size="7.6" font-weight="bold" stroke="#000" stroke-width="0.36" text-anchor="end" textLength="10" lengthAdjust="spacingAndGlyphs" fill="#000">1.5</text>
<text x="274.2" y="355.1" font-size="8.6" font-weight="bold" stroke="#000" stroke-width="0.36" text-anchor="middle" textLength="51.3" lengthAdjust="spacingAndGlyphs" transform="rotate(-90 274.2 355.1)" fill="#000">Fold Change</text>
<text x="283.9" y="355.3" font-size="8.6" font-weight="bold" stroke="#000" stroke-width="0.36" text-anchor="middle" textLength="77" lengthAdjust="spacingAndGlyphs" transform="rotate(-90 283.9 355.3)" fill="#000">GM-CSF/IFNg Ratio</text>
<line x1="322.3" y1="326.5" x2="322.3" y2="331.5" stroke="#000" stroke-width="1.1"/>
<line x1="315.8" y1="326.5" x2="328.8" y2="326.5" stroke="#000" stroke-width="1.1"/>
<rect x="309.30" y="332.00" width="26.00" height="73.80" fill="#fff" stroke="#000" stroke-width="1.0"/>
<line x1="362.3" y1="369.5" x2="362.3" y2="372" stroke="#000" stroke-width="1.1"/>
<line x1="355.8" y1="369.5" x2="368.8" y2="369.5" stroke="#000" stroke-width="1.1"/>
<rect x="349.30" y="372.50" width="26.00" height="33.30" fill="#a3a3a3" stroke="#000" stroke-width="1.0"/>
<line x1="401.9" y1="355.8" x2="401.9" y2="360.3" stroke="#000" stroke-width="1.1"/>
<line x1="395.4" y1="355.8" x2="408.4" y2="355.8" stroke="#000" stroke-width="1.1"/>
<rect x="388.80" y="360.80" width="26.20" height="45.00" fill="#000" stroke="#000" stroke-width="1.0"/>
<line x1="322.2" y1="405.8" x2="322.2" y2="409.0" stroke="#000" stroke-width="1.0"/>
<line x1="362.2" y1="405.8" x2="362.2" y2="409.0" stroke="#000" stroke-width="1.0"/>
<line x1="402" y1="405.8" x2="402" y2="409.0" stroke="#000" stroke-width="1.0"/>
<text x="322.5" y="415.6" font-size="7.9" font-weight="bold" stroke="#000" stroke-width="0.36" text-anchor="middle" textLength="27.5" lengthAdjust="spacingAndGlyphs" fill="#000">Control</text>
<text x="365.3" y="415.6" font-size="7.9" font-weight="bold" stroke="#000" stroke-width="0.36" text-anchor="middle" textLength="45.5" lengthAdjust="spacingAndGlyphs" fill="#000">Anti-GM-CSf</text>
<text x="402" y="415.6" font-size="7.9" font-weight="bold" stroke="#000" stroke-width="0.36" text-anchor="middle" textLength="15" lengthAdjust="spacingAndGlyphs" fill="#000">SSG</text>
<line x1="322.5" y1="321.7" x2="396.5" y2="321.7" stroke="#000" stroke-width="1.1"/>
<line x1="359.3" y1="321.2" x2="359.3" y2="327" stroke="#000" stroke-width="1.1"/>
<line x1="396.5" y1="321.2" x2="396.5" y2="327" stroke="#000" stroke-width="1.1"/>
<text x="367" y="324.9" font-size="8.2" font-weight="bold" stroke="#000" stroke-width="0.5" text-anchor="middle" fill="#000">**</text>
<line x1="360.5" y1="351.2" x2="399.5" y2="351.2" stroke="#000" stroke-width="1.1"/>
<line x1="360.7" y1="350.7" x2="360.7" y2="356.5" stroke="#000" stroke-width="1.1"/>
<text x="380" y="350.0" font-size="7.3" stroke="#000" stroke-width="0.38" text-anchor="middle" fill="#000">n.s.</text>
</g>
</svg>
</body></html>
